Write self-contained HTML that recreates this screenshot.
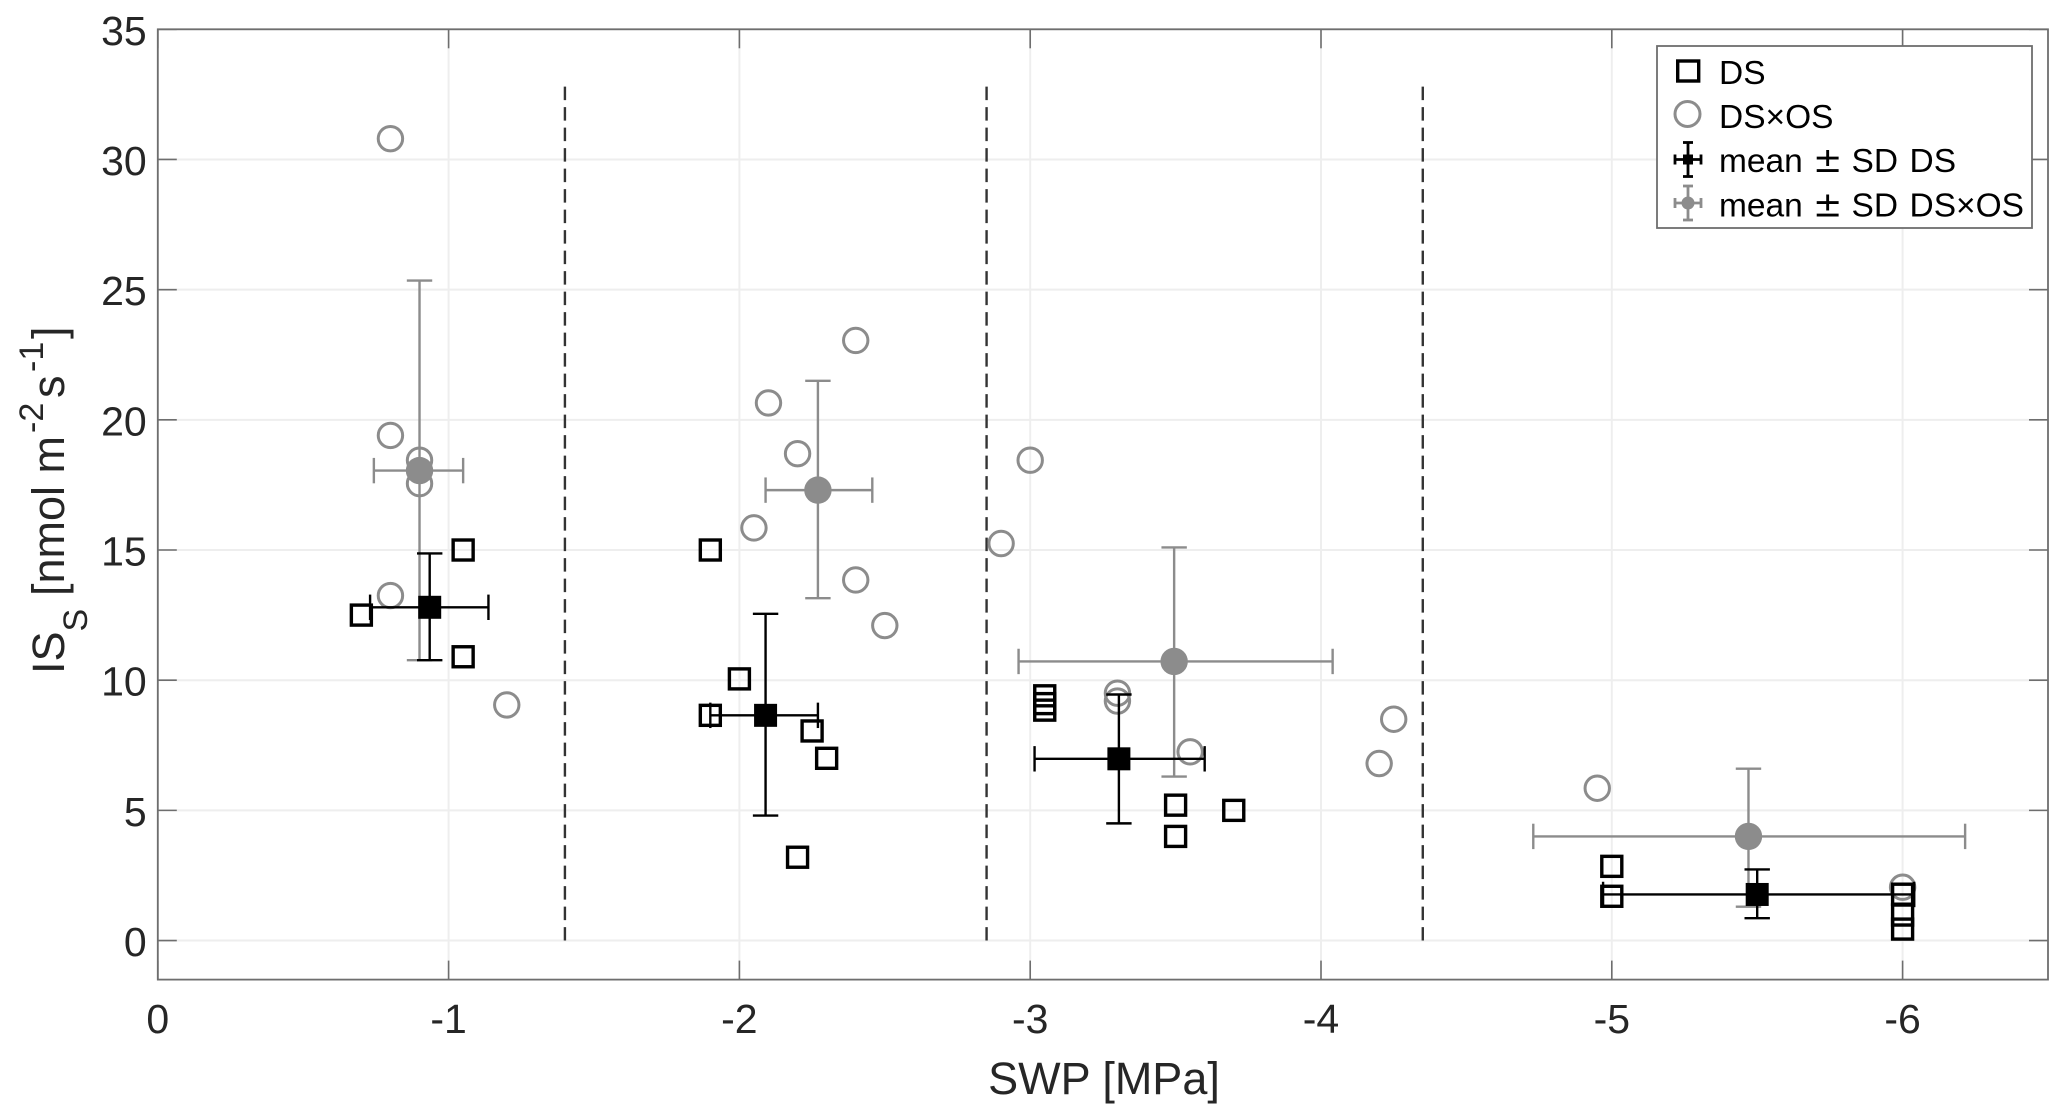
<!DOCTYPE html>
<html lang="en">
<head>
<meta charset="utf-8">
<title>IS_S vs SWP scatter chart</title>
<style>
html,body{margin:0;padding:0;background:#fff;width:2067px;height:1118px;overflow:hidden}
svg{display:block}
text{font-family:"Liberation Sans",sans-serif;fill:#262626}
</style>
</head>
<body>
<svg id="chart" xmlns="http://www.w3.org/2000/svg" width="2067" height="1118" viewBox="0 0 2067 1118"></svg>
<script>
// ---- chart data ----
const xTicks = [0, -1, -2, -3, -4, -5, -6];
const yTicks = [0, 5, 10, 15, 20, 25, 30, 35];
const xTickLabels = ['0', '-1', '-2', '-3', '-4', '-5', '-6'];
const yTickLabels = ['0', '5', '10', '15', '20', '25', '30', '35'];
const xDomain = [0, -6.5];
const yDomain = [-1.5, 35];

const dsX = [-0.7, -1.05, -1.05, -1.9, -1.9, -2.0, -2.25, -2.3, -2.2, -3.05, -3.05, -3.05, -3.5, -3.5, -3.7, -5, -5, -6, -6, -6];
const dsY = [12.5, 15, 10.9, 15, 8.65, 10.05, 8.05, 7, 3.2, 9.4, 9.1, 8.85, 5.2, 4.0, 5.0, 2.85, 1.7, 1.78, 0.98, 0.44];

const dsosX = [-0.8, -0.8, -0.9, -0.9, -0.8, -1.2, -2.4, -2.1, -2.2, -2.05, -2.4, -2.5, -3.0, -2.9, -3.3, -3.3, -3.55, -4.25, -4.2, -4.95, -6];
const dsosY = [30.8, 19.4, 18.45, 17.55, 13.25, 9.05, 23.05, 20.65, 18.7, 15.85, 13.85, 12.1, 18.45, 15.25, 9.5, 9.2, 7.25, 8.5, 6.8, 5.85, 2.05];

const dsMeanX = [-0.935, -2.09, -3.305, -5.5];
const dsMeanY = [12.8, 8.65, 6.98, 1.77];
const dsXLow = [-0.73, -1.9, -3.015, -4.97];
const dsXHigh = [-1.137, -2.27, -3.6, -6.04];
const dsYLow = [10.77, 4.8, 4.5, 0.86];
const dsYHigh = [14.87, 12.55, 9.45, 2.73];

const dsosMeanX = [-0.9, -2.27, -3.495, -5.47];
const dsosMeanY = [18.05, 17.3, 10.72, 4.0];
const dsosXLow = [-0.743, -2.09, -2.96, -4.73];
const dsosXHigh = [-1.05, -2.457, -4.04, -6.215];
const dsosYLow = [10.77, 13.15, 6.3, 1.3];
const dsosYHigh = [25.35, 21.5, 15.1, 6.6];

const dividerX = [-1.4, -2.85, -4.35];
const dividerYRange = [0, 32.8];

// ---- layout ----
const plot = {left: 157.8, right: 2048, top: 29.3, bottom: 979.6};
const NS = 'http://www.w3.org/2000/svg';
const svg = document.getElementById('chart');
const GREY = '#8c8c8c';
const AXIS = '#6e6e6e';

function xScale(v) {
  return plot.left + (v - xDomain[0]) / (xDomain[1] - xDomain[0]) * (plot.right - plot.left);
}
function yScale(v) {
  return plot.bottom - (v - yDomain[0]) / (yDomain[1] - yDomain[0]) * (plot.bottom - plot.top);
}
function mk(tag, attrs, parent) {
  const el = document.createElementNS(NS, tag);
  for (const k in attrs) el.setAttribute(k, attrs[k]);
  (parent || svg).appendChild(el);
  return el;
}
function line(x1, y1, x2, y2, stroke, width, parent) {
  return mk('line', {x1: x1, y1: y1, x2: x2, y2: y2, stroke: stroke, 'stroke-width': width}, parent);
}

// grid
xTicks.forEach(function (t) {
  const g = line(xScale(t), plot.top, xScale(t), plot.bottom, '#eeeeee', 2);
  
  
});
yTicks.forEach(function (t) {
  const g = line(plot.left, yScale(t), plot.right, yScale(t), '#eeeeee', 2);
  
  
});

// ticks
xTicks.forEach(function (t, i) {
  const a = line(xScale(t), plot.bottom, xScale(t), plot.bottom - 19, AXIS, 1.6);
  
  
  const b = line(xScale(t), plot.top, xScale(t), plot.top + 19, AXIS, 1.6);
  
  
  const lab = mk('text', {x: xScale(t), y: 1033, 'text-anchor': 'middle', 'font-size': 41});
  lab.textContent = xTickLabels[i];
  
  
});
yTicks.forEach(function (t, i) {
  const a = line(plot.left, yScale(t), plot.left + 19, yScale(t), AXIS, 1.6);
  
  
  const b = line(plot.right, yScale(t), plot.right - 19, yScale(t), AXIS, 1.6);
  
  
  const lab = mk('text', {x: 146.7, y: yScale(t) + 15.5, 'text-anchor': 'end', 'font-size': 41});
  lab.textContent = yTickLabels[i];
  
  
});

// axes box
const box = mk('rect', {x: plot.left, y: plot.top, width: plot.right - plot.left, height: plot.bottom - plot.top, fill: 'none', stroke: AXIS, 'stroke-width': 1.8});



// dashed dividers
dividerX.forEach(function (v) {
  const d = line(xScale(v), yScale(dividerYRange[1]), xScale(v), yScale(dividerYRange[0]), '#333333', 2.4);
  d.setAttribute('stroke-dasharray', '13.5 7');
  
  
});

// raw points
dsosX.forEach(function (v, i) {
  const c = mk('circle', {cx: xScale(v), cy: yScale(dsosY[i]), r: 12.2, fill: 'none', stroke: GREY, 'stroke-width': 3});
  
  
});
dsX.forEach(function (v, i) {
  const s = mk('rect', {x: xScale(v) - 10, y: yScale(dsY[i]) - 10, width: 20, height: 20, fill: 'none', stroke: '#000', 'stroke-width': 3.4});
  
  
});

// mean +- SD
function errorBar(mx, my, xl, xh, yl, yh, color, parent) {
  const cap = 12.7;
  const w = 2.4;
  line(xScale(xl), yScale(my), xScale(xh), yScale(my), color, w, parent);
  line(xScale(xl), yScale(my) - cap, xScale(xl), yScale(my) + cap, color, w, parent);
  line(xScale(xh), yScale(my) - cap, xScale(xh), yScale(my) + cap, color, w, parent);
  line(xScale(mx), yScale(yl), xScale(mx), yScale(yh), color, w, parent);
  line(xScale(mx) - cap, yScale(yl), xScale(mx) + cap, yScale(yl), color, w, parent);
  line(xScale(mx) - cap, yScale(yh), xScale(mx) + cap, yScale(yh), color, w, parent);
}
dsosMeanX.forEach(function (v, i) {
  const g = mk('g', {});
  
  
  errorBar(v, dsosMeanY[i], dsosXLow[i], dsosXHigh[i], dsosYLow[i], dsosYHigh[i], GREY, g);
  mk('circle', {cx: xScale(v), cy: yScale(dsosMeanY[i]), r: 13.7, fill: GREY}, g);
});
dsMeanX.forEach(function (v, i) {
  const g = mk('g', {});
  
  
  errorBar(v, dsMeanY[i], dsXLow[i], dsXHigh[i], dsYLow[i], dsYHigh[i], '#000', g);
  mk('rect', {x: xScale(v) - 11.5, y: yScale(dsMeanY[i]) - 11.5, width: 23, height: 23, fill: '#000'}, g);
});

// axis titles
const xt = mk('text', {x: 1104, y: 1094, 'text-anchor': 'middle', 'font-size': 45});
xt.textContent = 'SWP [MPa]';



const yt = mk('text', {transform: 'translate(64,671) rotate(-90)'});


[['IS', -3, 0, 45], ['S', 39.5, 23, 34], ['[nmol m', 75, 0, 45], ['-2', 238, -21, 34], ['s', 273, 0, 45], ['-1', 299, -21, 34], [']', 332, 0, 45]].forEach(function (p) {
  const ts = mk('tspan', {x: p[1], y: p[2], 'font-size': p[3]}, yt);
  ts.textContent = p[0];
});

// legend
const leg = mk('g', {});


const legBox = mk('rect', {x: 1657, y: 46, width: 375, height: 182, fill: '#fff', stroke: AXIS, 'stroke-width': 1.8}, leg);



const e1 = mk('g', {}, leg);


mk('rect', {x: 1677.7, y: 61, width: 21, height: 20, fill: 'none', stroke: '#000', 'stroke-width': 3.4}, e1);
const t1 = mk('text', {x: 1719, y: 84, 'font-size': 33.5, style: 'fill:#000'}, e1);
t1.textContent = 'DS';

const e2 = mk('g', {}, leg);


mk('circle', {cx: 1687.5, cy: 114, r: 12.5, fill: 'none', stroke: GREY, 'stroke-width': 3}, e2);
const t2 = mk('text', {x: 1719, y: 128, 'font-size': 33.5, style: 'fill:#000'}, e2);
t2.textContent = 'DS×OS';

function legendMean(parent, cy, color) {
  const w = 2.8;
  line(1688, cy - 17, 1688, cy + 17, color, w, parent);
  line(1683, cy - 17, 1693, cy - 17, color, w, parent);
  line(1683, cy + 17, 1693, cy + 17, color, w, parent);
  line(1675, cy, 1701, cy, color, w, parent);
  line(1675, cy - 5, 1675, cy + 5, color, w, parent);
  line(1701, cy - 5, 1701, cy + 5, color, w, parent);
}
const e3 = mk('g', {}, leg);


legendMean(e3, 159.5, '#000');
mk('rect', {x: 1683, y: 154.5, width: 10, height: 10, fill: '#000'}, e3);
const t3 = mk('text', {y: 172, 'font-size': 33.5, style: 'fill:#000'}, e3);
[['mean', 1719], ['±', 1813], ['SD', 1851.5], ['DS', 1909.5]].forEach(function (p) {
  const ts = mk('tspan', {x: p[1]}, t3);
  if (p[0] === '±') ts.setAttribute('style', 'font-family:"DejaVu Sans",sans-serif;font-size:35px');
  ts.textContent = p[0];
});

const e4 = mk('g', {}, leg);


legendMean(e4, 203, GREY);
mk('circle', {cx: 1688, cy: 203, r: 6.5, fill: GREY}, e4);
const t4 = mk('text', {y: 216.5, 'font-size': 33.5, style: 'fill:#000'}, e4);
[['mean', 1719], ['±', 1813], ['SD', 1851.5], ['DS×OS', 1909.5]].forEach(function (p) {
  const ts = mk('tspan', {x: p[1]}, t4);
  if (p[0] === '±') ts.setAttribute('style', 'font-family:"DejaVu Sans",sans-serif;font-size:35px');
  ts.textContent = p[0];
});
</script>
</body>
</html>
